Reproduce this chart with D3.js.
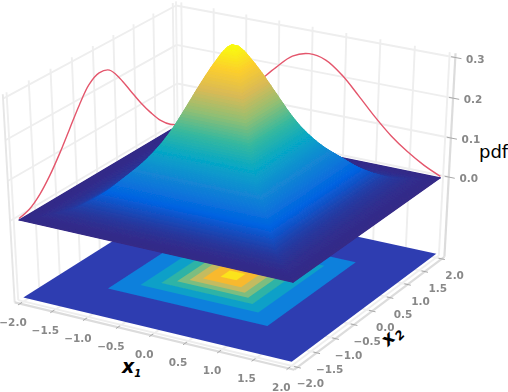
<!DOCTYPE html>
<meta charset="utf-8">
<style>
body { margin: 0; background: #fff; }
text { font-family: "DejaVu Sans", sans-serif; }
.tick text { font-size: 10.5px; font-weight: bold; fill: #888; text-anchor: middle; }
.grid line { stroke: #eeeeee; stroke-width: 1.9; }
</style>
<body>
<script src="https://cdn.jsdelivr.net/npm/d3@7"></script>
<script>

var width = 508, height = 392;

var ticks = [-2, -1.5, -1, -0.5, 0, 0.5, 1, 1.5, 2];
var zTicks = [0, 0.1, 0.2, 0.3];

// pdf against max(|x1|, |x2|)
var ringRadius = [0, .05, .1, .15, .2, .25, .3, .35, .4, .45, .5, .55, .6, .65, .7, .75, .8, .85, .9, .95,
  1, 1.05, 1.1, 1.15, 1.2, 1.25, 1.3, 1.35, 1.4, 1.45, 1.5, 1.55, 1.6, 1.65, 1.7, 1.75, 1.8, 1.85, 1.9, 1.95, 2];
var ringPdf = [.378, .374, .362, .346, .329, .311, .292, .272, .252, .232, .212, .193, .176, .160, .146, .133, .121, .110, .100, .091,
  .082, .073, .064, .055, .047, .040, .034, .028, .023, .018, .014, .011, .009, .007, .005, .004, .003, .002, .001, .001, 0];

// filled contours on the floor
var contourRadius = [2, 1.2, .89, .69, .54, .42, .29, .12];
var contourColors = ["#2f3db1", "#0e80dc", "#10a0c8", "#2db3a6", "#7cbd80", "#c4bb60", "#f8b92f", "#fbe31a"];

// marginals drawn on the walls
var marginalAt = [-2, -1.75, -1.5, -1.25, -1, -.75, -.5, -.25, 0, .25, .5, .75, 1, 1.25, 1.5, 1.75, 2];
var x2Marginal = [.004, .012, .033, .065, .105, .15, .195, .232, .247, .24, .205, .16, .115, .075, .04, .015, 0];
var x1Marginal = [0, .015, .04, .075, .115, .155, .197, .234, .248, .24, .21, .167, .122, .082, .05, .024, .004];

var parula = ["#352a87", "#0363e1", "#1485d4", "#06a7c6", "#38b99e", "#92bf73", "#d9ba56", "#fcce2e", "#f9fb0e"];
var color = d3.scaleLinear()
    .domain(d3.range(9).map(function(i) { return i / 8 * d3.max(ringPdf); }))
    .range(parula);

var xs = d3.scaleLinear().domain([-2, 2]).range([0, 1]);
var zs = d3.scaleLinear().domain([-0.2, 0.3]).range([0, 1]);
var margin = 1 / 48;

// same camera as mplot3d: elev 30, azim -60, dist 10
var el = 30 * Math.PI / 180, az = -60 * Math.PI / 180, dist = 10;
var n = [Math.cos(el) * Math.cos(az), Math.cos(el) * Math.sin(az), Math.sin(el)];
var u = [-Math.sin(az), Math.cos(az), 0];
var v = [n[1] * u[2] - n[2] * u[1], n[2] * u[0] - n[0] * u[2], n[0] * u[1] - n[1] * u[0]];
function dot(a, b) { return a[0] * b[0] + a[1] * b[1] + a[2] * b[2]; }

var sx = d3.scaleLinear().domain([0, 1]).range([233, 233 + 3098]);
var sy = d3.scaleLinear().domain([0, 1]).range([179, 179 - 2280]);

// p is in box coordinates, 0 to 1 on each side
function project(p) {
  var r = [p[0] - .5, p[1] - .5, p[2] - .5];
  var w = dist - dot(n, r);
  return [sx(dot(u, r) / w), sy(dot(v, r) / w), w];
}
function data3(a, b, z) { return project([xs(a), xs(b), zs(z)]); }

var line = d3.line().x(function(d) { return d[0]; }).y(function(d) { return d[1]; });

var svg = d3.select("body").append("svg")
    .attr("width", width)
    .attr("height", height)
    .style("display", "block");
var defs = svg.append("defs");
function blur(id, amount) {
  defs.append("filter").attr("id", id)
      .attr("filterUnits", "userSpaceOnUse").attr("x", 0).attr("y", 0).attr("width", width).attr("height", height)
    .append("feGaussianBlur").attr("stdDeviation", amount);
}
blur("soft", 0.7);
blur("softer", 0.35);

var g = svg.append("g").attr("filter", "url(#soft)");

// walls and floor grid
var lo = -margin, hi = 1 + margin;
var grid = g.append("g").attr("class", "grid");
function seg(parent, a, b) {
  var p = project(a), q = project(b);
  return parent.append("line").attr("x1", p[0]).attr("y1", p[1]).attr("x2", q[0]).attr("y2", q[1]);
}
ticks.forEach(function(t) {
  var k = xs(t);
  seg(grid, [lo, k, lo], [lo, k, hi]);
  seg(grid, [k, hi, lo], [k, hi, hi]);
  seg(grid, [k, lo, lo], [k, hi, lo]);
  seg(grid, [lo, k, lo], [hi, k, lo]);
});
zTicks.forEach(function(t) {
  var k = zs(t);
  seg(grid, [lo, lo, k], [lo, hi, k]);
  seg(grid, [lo, hi, k], [hi, hi, k]);
});
seg(grid, [lo, lo, lo], [lo, lo, hi]).style("stroke", "#e6e6e6");
seg(grid, [lo, hi, lo], [lo, hi, hi]).style("stroke", "#f0f0f0");

// axes
var axes = g.append("g");
function axisLine(a, b) {
  seg(axes, a, b).attr("stroke", "#dcdcdc").attr("stroke-width", 2.2);
}
axisLine([lo, lo, lo], [hi, lo, lo]);
axisLine([hi, lo, lo], [hi, hi, lo]);
axisLine([hi, hi, lo], [hi, hi, hi]);

function tickMark(a, b) {
  seg(axes, a, b).attr("stroke", "#a8a8a8").attr("stroke-width", 1);
}
ticks.forEach(function(t) {
  var k = xs(t);
  tickMark([k, lo + .012, lo], [k, lo - .012, lo]);
  tickMark([hi - .012, k, lo], [hi + .012, k, lo]);
});
zTicks.forEach(function(t) {
  var k = zs(t);
  tickMark([hi - .015, hi, k], [hi + .022, hi, k]);
});

// contourf on the floor
g.append("g").selectAll("path")
    .data(contourRadius)
  .join("path")
    .attr("d", function(r) {
      return line([data3(-r, -r, -0.2), data3(r, -r, -0.2), data3(r, r, -0.2), data3(-r, r, -0.2)]) + "Z";
    })
    .attr("fill", function(r, i) { return contourColors[i]; });

// marginals, behind the surface
var curve = d3.line().x(function(d) { return d[0]; }).y(function(d) { return d[1]; }).curve(d3.curveCatmullRom);
g.append("path")
    .attr("d", curve(marginalAt.map(function(a, i) { return data3(-2, a, x2Marginal[i]); })))
    .attr("fill", "none").attr("stroke", "#e4566c").attr("stroke-width", 1.4);
g.append("path")
    .attr("d", curve(marginalAt.map(function(a, i) { return data3(a, 2, x1Marginal[i]); })))
    .attr("fill", "none").attr("stroke", "#e4566c").attr("stroke-width", 1.4);

// surface: four trapezoids per ring, painted far to near
var sides = [[-1, -1, 1, -1], [1, -1, 1, 1], [1, 1, -1, 1], [-1, 1, -1, -1]];
var strips = 3;
var quads = [];
d3.range(ringRadius.length - 1).forEach(function(i) {
  var ra = d3.scaleLinear().domain([0, strips]).range([ringRadius[i], ringRadius[i + 1]]);
  var za = d3.scaleLinear().domain([0, strips]).range([ringPdf[i], ringPdf[i + 1]]);
  d3.range(strips).forEach(function(j) {
    var a = ra(j), b = ra(j + 1), zMid = za(j + .5);
    sides.forEach(function(s) {
      var pts = [
        data3(s[0] * a, s[1] * a, za(j)), data3(s[2] * a, s[3] * a, za(j)),
        data3(s[2] * b, s[3] * b, za(j + 1)), data3(s[0] * b, s[1] * b, za(j + 1))
      ];
      quads.push({pts: pts, z: zMid, depth: d3.mean(pts, function(p) { return p[2]; })});
    });
  });
});
quads.sort(function(p, q) { return q.depth - p.depth; });

g.append("g").selectAll("path")
    .data(quads)
  .join("path")
    .attr("d", function(q) { return line(q.pts) + "Z"; })
    .attr("fill", function(q) { return color(q.z); })
    .attr("stroke", function(q) { return color(q.z); })
    .attr("stroke-width", 1.1)
    .attr("stroke-linejoin", "round");

// tick labels
function fmt(t) { return d3.format(".1f")(t).replace("-", "\u2212"); }
var labels = svg.append("g").attr("class", "tick").attr("filter", "url(#softer)");
function label(p, dx, dy, t) {
  labels.append("text").attr("x", p[0] + dx).attr("y", p[1] + dy + 4).text(fmt(t));
}
ticks.forEach(function(t) {
  label(project([xs(t), lo, lo]), -7, 18.5, t);
  label(project([hi, xs(t), lo]), 13, 16, t);
});
zTicks.forEach(function(t) {
  label(project([hi, hi, zs(t)]), 20, 1, t);
});

// axis labels
var title = svg.append("g").attr("fill", "#000");
title.append("text").attr("x", 479).attr("y", 158).attr("font-size", 18).text("pdf");

var x1 = title.append("text").attr("x", 122).attr("y", 373)
    .attr("font-size", 19).attr("font-style", "italic").attr("font-weight", "bold");
x1.append("tspan").text("x");
x1.append("tspan").attr("font-size", 10).attr("dy", 4).text("1");

var x2 = title.append("text").attr("transform", "translate(388,347) rotate(-45)")
    .attr("font-size", 18).attr("font-style", "italic").attr("font-weight", "bold");
x2.append("tspan").text("x");
x2.append("tspan").attr("font-size", 12).attr("dx", 1).attr("dy", 4).text("2");

</script>
</body>
